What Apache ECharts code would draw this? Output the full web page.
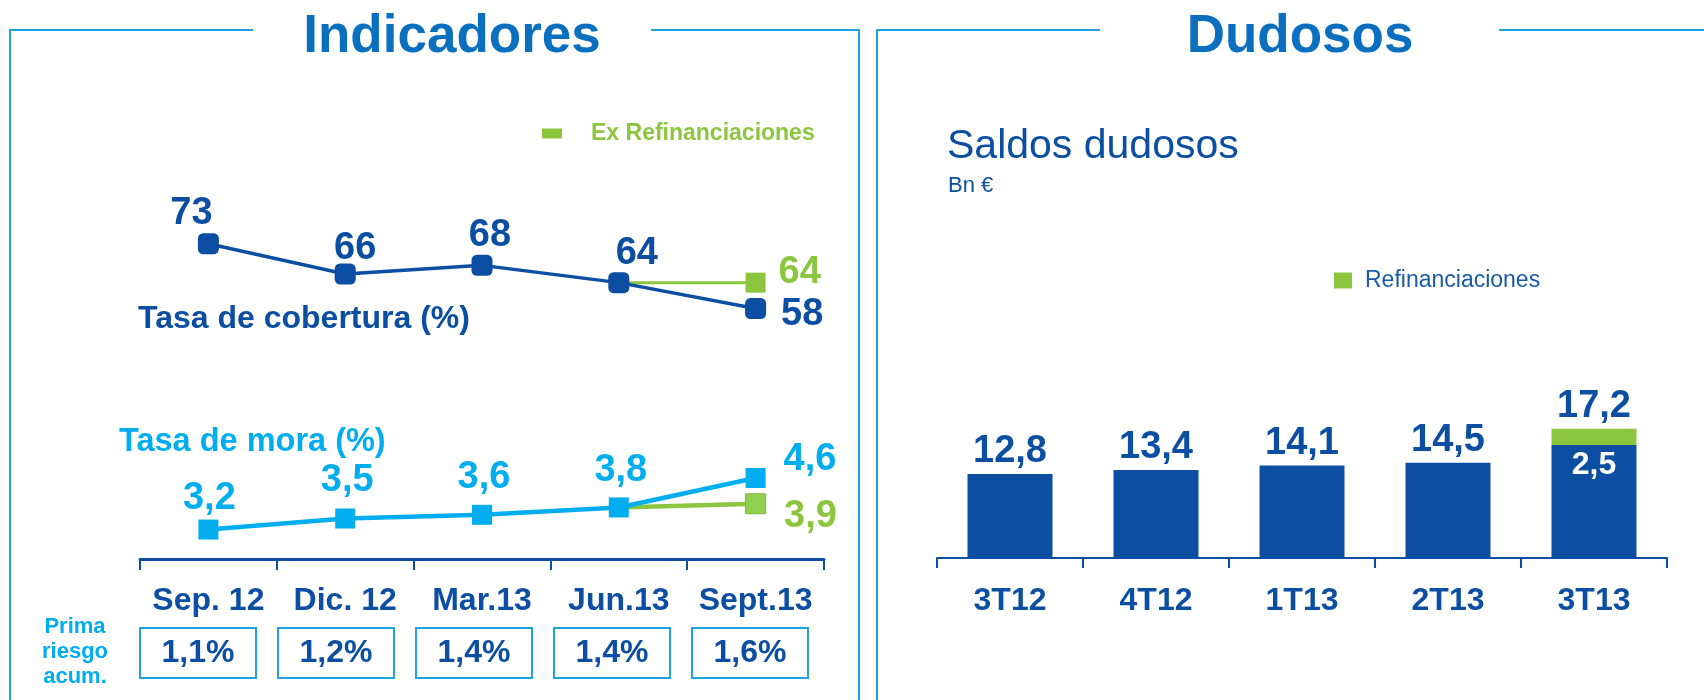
<!DOCTYPE html>
<html>
<head>
<meta charset="utf-8">
<script src="https://cdn.jsdelivr.net/npm/echarts@6/dist/echarts.min.js"></script>
<style>
html, body { margin: 0; padding: 0; background: #fff; }
#chart { width: 1704px; height: 700px; }
</style>
</head>
<body>
<div id="chart"></div>
<script>
// Indicadores
const fechas = ['Sep. 12', 'Dic. 12', 'Mar.13', 'Jun.13', 'Sept.13'];
const cobertura = [73, 66, 68, 64, 58];
const coberturaExRefin = ['-', '-', '-', 64, 64];
const mora = [3.2, 3.5, 3.6, 3.8, 4.6];
const moraExRefin = ['-', '-', '-', 3.8, 3.9];
const primaRiesgo = [1.1, 1.2, 1.4, 1.4, 1.6];

// Dudosos (Bn €)
const trimestres = ['3T12', '4T12', '1T13', '2T13', '3T13'];
const saldosDudosos = [12.8, 13.4, 14.1, 14.5, 17.2];
const refinanciaciones = ['-', '-', '-', '-', 2.5];

const AZUL = '#0b4ea2';
const CIAN = '#00adef';
const VERDE = '#8cc63f';
const TITULO = '#0a6fbf';
const MARCO = '#1ea2e4';
const FONT = "'Liberation Sans', Arial, sans-serif";

const fmt = v => String(v).replace('.', ',');

const chart = echarts.init(document.getElementById('chart'));

// posicion de las etiquetas de cada punto
const sobre = (dx, dy) => ({ position: 'top', distance: 0, offset: [dx, dy] });
const derecha = (d, dy) => ({ position: 'right', distance: d, offset: [0, dy] });
const etiqCob = [sobre(-17, -1), sobre(10, 4), sobre(8, 0), sobre(18, 0), derecha(15, 6)];
const etiqMora = [sobre(1, -2), sobre(2, -9), sobre(2, -8), sobre(2, -8), derecha(18, -18)];

const numLabel = (color, size) => ({
  show: true, color: color, fontSize: size, fontWeight: 'bold', fontFamily: FONT,
  formatter: p => fmt(p.value)
});

const option = {
  animation: false,
  textStyle: { fontFamily: FONT },
  title: [
    { text: 'Indicadores', left: 452, top: 11, textAlign: 'center', padding: 0,
      textStyle: { color: TITULO, fontSize: 53, fontWeight: 'bold', fontFamily: FONT } },
    { text: 'Dudosos', left: 1300, top: 11, textAlign: 'center', padding: 0,
      textStyle: { color: TITULO, fontSize: 53, fontWeight: 'bold', fontFamily: FONT } },
    { text: 'Saldos dudosos', left: 947, top: 126, padding: 0,
      textStyle: { color: AZUL, fontSize: 41, fontWeight: 'normal', fontFamily: FONT } },
    { text: 'Bn €', left: 948, top: 175, padding: 0,
      textStyle: { color: AZUL, fontSize: 22, fontWeight: 'normal', fontFamily: FONT } },
    { text: 'Tasa de cobertura (%)', left: 138, top: 303, padding: 0,
      textStyle: { color: AZUL, fontSize: 32, fontWeight: 'bold', fontFamily: FONT } },
    { text: 'Tasa de mora (%)', left: 119, top: 426, padding: 0,
      textStyle: { color: CIAN, fontSize: 32.5, fontWeight: 'bold', fontFamily: FONT } },
    { text: 'Prima\nriesgo\nacum.', left: 75, top: 614, textAlign: 'center', padding: 0,
      textStyle: { color: CIAN, fontSize: 22, fontWeight: 'bold', lineHeight: 25, fontFamily: FONT } }
  ],
  legend: [
    { data: ['Ex Refinanciaciones'], left: 537, top: 117, selectedMode: false,
      icon: 'rect', itemWidth: 20, itemHeight: 10,
      textStyle: { color: VERDE, fontSize: 23, fontWeight: 'bold', fontFamily: FONT, padding: [0, 0, 0, 24] } },
    { data: ['Refinanciaciones'], left: 1329, top: 264, selectedMode: false,
      icon: 'rect', itemWidth: 18, itemHeight: 16,
      textStyle: { color: '#1a5aa8', fontSize: 23, fontFamily: FONT, padding: [0, 0, 0, 8] } }
  ],
  graphic: [
    { type: 'polyline', shape: { points: [[10, 700], [10, 30], [253, 30]] }, style: { stroke: MARCO, lineWidth: 2, fill: 'none' } },
    { type: 'polyline', shape: { points: [[651, 30], [859, 30], [859, 700]] }, style: { stroke: MARCO, lineWidth: 2, fill: 'none' } },
    { type: 'polyline', shape: { points: [[877, 700], [877, 30], [1100, 30]] }, style: { stroke: MARCO, lineWidth: 2, fill: 'none' } },
    { type: 'polyline', shape: { points: [[1499, 30], [1704, 30]] }, style: { stroke: MARCO, lineWidth: 2, fill: 'none' } }
  ],
  grid: [
    { left: 140, right: 880, top: 84, bottom: 141, outerBoundsMode: 'none' },
    { left: 937, right: 37, top: 361, bottom: 142, outerBoundsMode: 'none' },
    { left: 129, width: 690, top: 590, height: 20, outerBoundsMode: 'none' }
  ],
  xAxis: [
    { gridIndex: 0, type: 'category', data: fechas,
      axisLine: { lineStyle: { color: AZUL, width: 3 } },
      axisTick: { show: true, length: 11, lineStyle: { color: AZUL, width: 2 } },
      axisLabel: { interval: 0, margin: 26, color: AZUL, fontSize: 32, fontWeight: 'bold', fontFamily: FONT } },
    { gridIndex: 1, type: 'category', data: trimestres,
      axisLine: { lineStyle: { color: AZUL, width: 2 } },
      axisTick: { show: true, length: 10, lineStyle: { color: AZUL, width: 2 } },
      axisLabel: { interval: 0, margin: 27, color: AZUL, fontSize: 32, fontWeight: 'bold', fontFamily: FONT } },
    { gridIndex: 2, type: 'category', data: primaRiesgo.map(v => fmt(v) + '%'),
      axisLine: { show: false }, axisTick: { show: false },
      axisLabel: { interval: 0, margin: 18, color: AZUL, fontSize: 32, fontWeight: 'bold', fontFamily: FONT,
        width: 116, height: 50, lineHeight: 50, align: 'center', padding: 0,
        borderColor: MARCO, borderWidth: 2 } }
  ],
  yAxis: [
    { gridIndex: 0, type: 'value', min: 0, max: 110, show: false },
    { gridIndex: 0, type: 'value', min: 2.4, max: 15.3, show: false },
    { gridIndex: 1, type: 'value', min: 0, max: 30, show: false },
    { gridIndex: 2, type: 'value', min: 0, max: 1, show: false }
  ],
  series: [
    {
      name: 'Ex Refinanciaciones', type: 'line', xAxisIndex: 0, yAxisIndex: 0,
      data: coberturaExRefin.map((v, i) => ({
        value: v, symbol: i === 4 ? 'rect' : 'none',
        label: Object.assign({ show: i === 4 }, derecha(13, -10))
      })),
      symbolSize: 20, lineStyle: { color: VERDE, width: 3 }, itemStyle: { color: VERDE },
      label: numLabel(VERDE, 38)
    },
    {
      name: 'Tasa de cobertura', type: 'line', xAxisIndex: 0, yAxisIndex: 0,
      data: cobertura.map((v, i) => ({ value: v, label: etiqCob[i] })),
      symbol: 'roundRect', symbolSize: 21,
      lineStyle: { color: AZUL, width: 3.5 }, itemStyle: { color: AZUL },
      label: numLabel(AZUL, 38)
    },
    {
      name: 'Ex Refinanciaciones', type: 'line', xAxisIndex: 0, yAxisIndex: 1,
      data: moraExRefin.map((v, i) => ({
        value: v, symbol: i === 4 ? 'rect' : 'none',
        label: Object.assign({ show: i === 4 }, derecha(18, 13))
      })),
      symbolSize: 20, lineStyle: { color: VERDE, width: 4.5 },
      itemStyle: { color: '#92d050', borderColor: '#7cb940', borderWidth: 1 },
      label: numLabel(VERDE, 38)
    },
    {
      name: 'Tasa de mora', type: 'line', xAxisIndex: 0, yAxisIndex: 1,
      data: mora.map((v, i) => ({ value: v, label: etiqMora[i] })),
      symbol: 'rect', symbolSize: 20,
      lineStyle: { color: CIAN, width: 4.5 }, itemStyle: { color: CIAN },
      label: numLabel(CIAN, 38)
    },
    {
      name: 'Saldos dudosos', type: 'bar', xAxisIndex: 1, yAxisIndex: 2, stack: 'dudosos',
      barWidth: 85,
      data: saldosDudosos.map((v, i) => refinanciaciones[i] === '-'
        ? v
        : { value: v, label: { position: 'insideTop', distance: 4, color: '#fff', fontSize: 32,
            formatter: () => fmt(refinanciaciones[i]) } }),
      itemStyle: { color: AZUL },
      label: Object.assign(numLabel(AZUL, 38), { position: 'top', distance: 3 })
    },
    {
      name: 'Refinanciaciones', type: 'bar', xAxisIndex: 1, yAxisIndex: 2, stack: 'dudosos',
      barWidth: 85,
      data: refinanciaciones,
      itemStyle: { color: VERDE },
      label: Object.assign(numLabel(AZUL, 38), { position: 'top', distance: 3,
        formatter: p => fmt(saldosDudosos[p.dataIndex]) })
    }
  ]
};

chart.setOption(option);
</script>
</body>
</html>
